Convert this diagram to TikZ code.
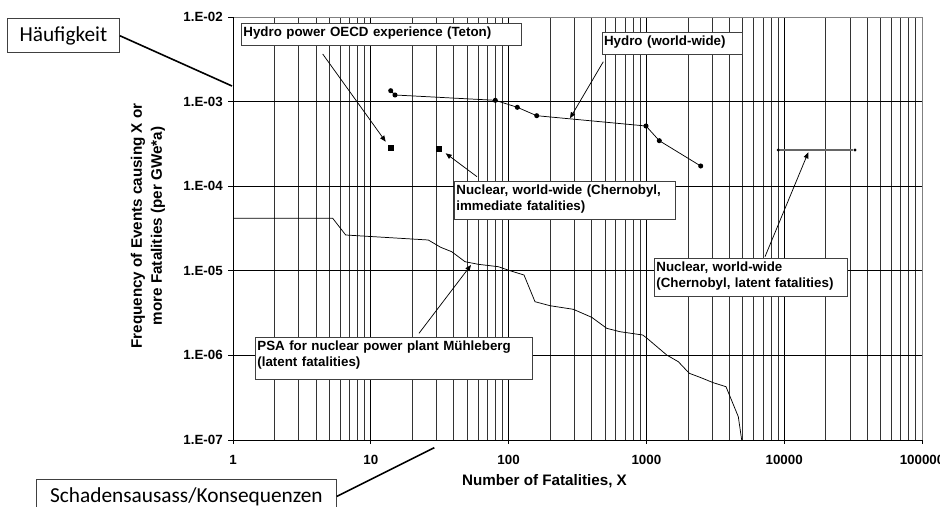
\documentclass[tikz,border=0pt]{standalone}
\usepackage{fontspec}
\setmainfont{Liberation Sans}
\newfontfamily\calib{Carlito}
\usetikzlibrary{arrows.meta}
\newcommand\tpS{\rule{0pt}{9.75pt}}
\newcommand\btS{\rule[-6.75pt]{0pt}{6.75pt}}
\newcommand\btL{\rule[-10pt]{0pt}{10pt}}
\begin{document}
\begin{tikzpicture}[x=0.75pt,y=-0.75pt,
  gl/.style={black!80,line width=0.5pt},
  dl/.style={black,line width=0.6pt},
  frm/.style={black!50,line width=0.6pt},
  tk/.style={font=\fontsize{10}{12}\selectfont\bfseries, inner sep=0pt},
  ttl/.style={font=\fontsize{11.4}{15}\selectfont\bfseries, inner sep=0pt},
  lbl/.style={draw=black!75, line width=0.6pt, fill=white, anchor=north west,
    inner xsep=1.5pt, inner ysep=0pt, align=left,
    font=\fontsize{10}{12}\selectfont\bfseries},
  callout/.style={draw=black!75, line width=0.6pt, fill=white, anchor=north west,
    inner sep=0pt, minimum height=25.5pt, font=\calib\fontsize{16}{19}\selectfont},
  ptr/.style={line width=0.55pt, -{Triangle[length=4.5pt,width=3.6pt]}},
  lead/.style={line width=1.2pt},
  dat/.style={black, line width=0.55pt},
  dot/.style={circle, fill=black, minimum size=3.8pt, inner sep=0pt},
  sdot/.style={circle, fill=black, minimum size=2.6pt, inner sep=0pt},
  sq/.style={rectangle, fill=black, minimum size=4.5pt, inner sep=0pt}]
\useasboundingbox (0,0) rectangle (940,507);

% minor vertical grid
\foreach \d in {0,...,4}{
  \foreach \k in {2,...,9}{
    \draw[gl] ({233+137.8*(\d+log10(\k))},17) -- ({233+137.8*(\d+log10(\k))},440);
  }
}
% decade lines
\foreach \d in {1,...,4}
  \draw[dl] ({233+137.8*\d},17) -- ({233+137.8*\d},444);
\foreach \j in {1,...,4}
  \draw[dl] (228,{17+84.6*\j}) -- (922,{17+84.6*\j});
% frame
\draw[frm] (233,17) -- (922,17) -- (922,440);
\draw[dl] (228,17) -- (233,17) -- (233,440) -- (922,440);
\draw[dl] (228,440) -- (233,440);
\draw[dl] (233,440) -- (233,444);
\draw[dl] (922,440) -- (922,444);

% tick labels
\foreach \j/\t in {0/02,1/03,2/04,3/05,4/06,5/07}
  \node[tk,anchor=east] (yl\j) at (223,{17+84.6*\j}) {1.E-\t};
\foreach \d/\t in {0/1,1/10,2/100,3/1000,4/10000,5/100000}
  \node[tk,anchor=base] (xl\d) at ({233+137.8*\d},464.3) {\t};

% axis titles
\node[ttl,rotate=90,align=center] (ytitle) at (148,226)
  {Frequency of Events causing X or\\more Fatalities (per GWe*a)};
\node[ttl,anchor=base] (xtitle) at (544.5,485) {Number of Fatalities, X};

% PSA curve
\draw[dat] (233.3,218.3) -- (332.7,218.3) -- (345.7,235) -- (428.3,240) -- (440.7,247.3)
  -- (451.7,251.7) -- (465,261.7) -- (478.3,264.3) -- (498.3,266.7) -- (510,270.7)
  -- (524,275) -- (535,301.7) -- (550,305.7) -- (573.3,309.3) -- (591.7,317.3)
  -- (606.7,328.3) -- (620,331.7) -- (642.7,335) -- (646.7,338) -- (666.7,355)
  -- (678.3,361.7) -- (689.3,373.3) -- (700,377.3) -- (713.3,382.7) -- (726,386.7)
  -- (738.3,416.7) -- (741.7,440);

% Hydro world-wide
\draw[dat] (390.7,90.7) -- (395,95) -- (495.3,100.3) -- (517.3,107.3) -- (536.7,115.7)
  -- (646,126) -- (659.3,140.7) -- (700.7,166);
\node[dot] (h1) at (390.7,90.7) {};
\node[dot] (h2) at (395,95) {};
\node[dot] (h3) at (495.3,100.3) {};
\node[dot] (h4) at (517.3,107.3) {};
\node[dot] (h5) at (536.7,115.7) {};
\node[dot] (h6) at (646,126) {};
\node[dot] (h7) at (659.3,140.7) {};
\node[dot] (h8) at (700.7,166) {};

% Nuclear latent
\node[sdot] (n1) at (778.3,150) {};
\node[sdot] (n2) at (855,150) {};
\draw[black!60,line width=0.8pt] (n1) -- (n2);

% squares
\node[sq] (teton) at (390.7,147.7) {};
\node[sq] (chern) at (439,149.3) {};

% label boxes
\node[lbl,text width=207pt] (lTeton) at (241,22.7)
  {\tpS Hydro power OECD experience (Teton)\btS};
\node[lbl,text width=102pt] (lHydro) at (601.7,32.3)
  {\tpS Hydro (world-wide)\btS};
\node[lbl,text width=162.75pt] (lChImm) at (454,180.7)
  {\tpS Nuclear, world-wide (Chernobyl,\\immediate fatalities)\btS};
\node[lbl,text width=141.5pt] (lChLat) at (654,257.7)
  {\tpS Nuclear, world-wide\\(Chernobyl, latent fatalities)\btS};
\node[lbl,text width=204.5pt] (lPSA) at (255,336.7)
  {\tpS PSA for nuclear power plant Mühleberg\\(latent fatalities)\btL};

% pointer arrows
\coordinate (a1s) at (322.7,54);    \coordinate (a1e) at (385.7,141.7);
\coordinate (a2s) at (603.3,61.7);  \coordinate (a2e) at (570,118.3);
\coordinate (a3s) at (477,176.7);   \coordinate (a3e) at (445.7,153.3);
\coordinate (a4s) at (765,256.7);   \coordinate (a4e) at (808.3,152.3);
\coordinate (a5s) at (419,333.3);   \coordinate (a5e) at (471,265);
\draw[ptr] (a1s) -- (a1e);
\draw[ptr] (a2s) -- (a2e);
\draw[ptr] (a3s) -- (a3e);
\draw[ptr] (a4s) -- (a4e);
\draw[ptr] (a5s) -- (a5e);

% callouts
\node[callout,minimum width=84pt] (hauf) at (7,18.3) {Häufigkeit};
\node[callout,minimum width=225pt] (schad) at (36,479) {Schadensausass/Konsequenzen};
\coordinate (haufE) at (232,86);
\coordinate (schadE) at (434.3,447.7);
\draw[lead] (hauf.east) -- (haufE);
\draw[lead] (schad.east) -- (schadE);
\end{tikzpicture}
\end{document}
